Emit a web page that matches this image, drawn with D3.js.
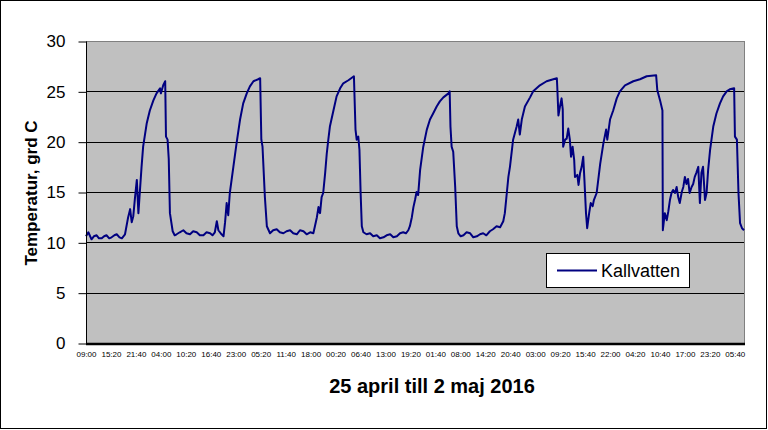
<!DOCTYPE html>
<html lang="sv">
<head>
<meta charset="UTF-8" />
<title>Kallvatten</title>
<style>
  body { margin: 0; background: #fff; }
  svg { display: block; font-family: "Liberation Sans", Arial, sans-serif; }
  .frame { fill: #fff; stroke: #000; stroke-width: 1; }
  .plot-bg { fill: #c0c0c0; stroke: #808080; stroke-width: 1; }
  .grid line { stroke: #000; stroke-width: 1; }
  .y-axis text { font-size: 17px; fill: #000; }
  .y-axis line, .y-axis path { stroke: #000; }
  .x-axis text { font-size: 8px; fill: #000; }
  .x-axis path { stroke: #000; stroke-width: 2.5; }
  .series { fill: none; stroke: #000080; stroke-width: 2; stroke-linejoin: round; }
  .title { font-weight: bold; fill: #000; }
</style>
<script src="https://cdnjs.cloudflare.com/ajax/libs/d3/7.8.5/d3.min.js"></script>
</head>
<body>
<div id="chart"></div>
<script>
// timmar från 25 april 09:00, temperatur i grader C
const hours = [
  0, 0.6, 1.4, 2.0, 2.7, 3.3, 4.0, 4.6, 5.2, 5.9, 6.5, 7.2, 7.8, 8.5, 9.1, 9.9,
  10.7, 11.2, 11.6, 12.0, 12.4, 12.9, 13.3, 13.7, 14.1, 14.5, 15.4, 16.2, 17.1, 17.9, 18.8, 19.0,
  19.6, 20.1, 20.3, 20.7, 21.0, 21.3, 22.0, 22.5, 23.0, 23.8, 24.7, 25.5, 26.4, 27.2, 28.1, 28.9,
  29.8, 30.6, 31.5, 32.1, 32.7, 33.2, 33.6, 34.4, 34.9, 35.3, 35.7, 36.1, 36.5, 37.4, 38.2, 39.1,
  39.9, 40.8, 41.6, 42.5, 43.7, 44.2, 44.5, 44.8, 45.4, 45.9, 46.7, 47.5, 48.4, 49.2, 50.1, 50.9,
  51.8, 52.6, 53.5, 54.3, 55.2, 56.0, 56.9, 57.7, 58.1, 58.6, 59.0, 59.4, 59.8, 60.2, 60.7, 61.1,
  61.5, 61.9, 62.8, 63.6, 64.5, 65.3, 66.6, 68.0, 68.4, 68.7, 69.1, 69.4, 69.7, 70.0, 70.4, 71.2,
  72.1, 72.9, 73.8, 74.6, 75.5, 76.3, 77.2, 78.0, 78.9, 79.7, 80.5, 81.2, 81.8, 82.2, 82.7, 83.1,
  83.5, 83.9, 84.3, 84.8, 85.6, 86.5, 87.3, 88.1, 89.0, 89.8, 90.7, 92.0, 92.3, 92.5, 92.8, 93.2,
  93.7, 94.1, 94.5, 95.1, 95.8, 96.6, 97.5, 98.3, 99.2, 100.0, 100.8, 101.6, 102.5, 103.3, 104.2, 105.1,
  105.9, 106.3, 106.8, 107.2, 107.6, 108.4, 109.3, 109.7, 110.1, 110.6, 111.4, 112.7, 113.5, 115.2, 116.9, 118.6,
  119.5, 119.6, 119.9, 120.3, 120.7, 121.0, 121.1, 121.6, 122.0, 122.4, 122.8, 123.1, 123.5, 123.9, 124.1, 124.7,
  125.0, 125.4, 125.8, 126.2, 126.5, 126.9, 127.2, 127.7, 128.1, 128.6, 128.9, 129.6, 130.5, 131.3, 132.0, 132.3,
  133.0, 133.8, 134.7, 135.5, 136.8, 138.9, 140.6, 142.3, 144.7, 145.0, 145.7, 146.3, 146.4, 146.9, 147.4, 147.8,
  148.2, 148.6, 149.0, 149.5, 149.9, 150.3, 150.7, 151.2, 151.6, 152.0, 152.4, 152.8, 153.2, 153.7, 154.1, 154.5,
  154.9, 155.4, 155.8, 156.2, 156.6, 157.1, 157.5, 157.9, 158.4, 159.2, 160.0, 160.9, 161.7, 162.6, 163.4, 164.5,
  164.7, 165.2, 165.6, 166.0, 166.5, 167.0
];
const kallvatten = [
  10.6, 11.0, 10.3, 10.6, 10.7, 10.4, 10.4, 10.6, 10.7, 10.4, 10.5, 10.7, 10.8, 10.5, 10.4, 10.8,
  12.5, 13.3, 12.0, 12.6, 14.3, 16.2, 12.9, 15.2, 17.5, 19.5, 21.8, 23.1, 24.1, 24.8, 25.3, 24.8,
  25.6, 26.0, 20.5, 20.2, 18.3, 12.9, 11.1, 10.7, 10.8, 11.0, 11.2, 10.9, 10.8, 11.1, 11.0, 10.7,
  10.7, 11.0, 10.9, 10.7, 11.0, 12.1, 11.2, 10.8, 10.6, 12.0, 13.9, 12.7, 14.9, 17.5, 19.8, 22.2,
  23.8, 24.8, 25.5, 26.0, 26.2, 26.3, 20.2, 19.5, 14.5, 11.6, 10.9, 11.2, 11.3, 11.0, 10.9, 11.1,
  11.2, 10.9, 10.8, 11.2, 11.1, 10.8, 11.0, 10.9, 11.6, 12.5, 13.5, 12.9, 14.5, 14.9, 16.9, 18.8,
  20.2, 21.5, 23.1, 24.5, 25.3, 25.8, 26.1, 26.5, 21.2, 20.2, 20.5, 19.2, 14.9, 11.6, 11.0, 10.8,
  10.9, 10.6, 10.7, 10.4, 10.5, 10.7, 10.8, 10.5, 10.6, 10.9, 11.0, 10.9, 11.2, 11.6, 12.5, 13.5,
  14.2, 15.0, 14.7, 17.2, 19.5, 21.2, 22.2, 22.8, 23.5, 24.0, 24.4, 24.8, 25.0, 21.5, 19.5, 19.0,
  15.5, 11.6, 10.9, 10.6, 10.7, 11.0, 10.9, 10.5, 10.6, 10.8, 10.9, 10.7, 11.1, 11.3, 11.6, 11.5,
  12.1, 12.9, 14.9, 16.5, 17.5, 20.2, 21.5, 22.2, 20.7, 22.2, 23.5, 24.4, 25.0, 25.6, 26.0, 26.2,
  26.3, 25.5, 22.6, 23.5, 24.3, 23.2, 19.5, 20.2, 20.3, 21.3, 20.2, 18.5, 19.5, 18.2, 16.5, 16.7,
  15.7, 16.9, 17.5, 18.5, 16.2, 12.9, 11.4, 12.9, 13.9, 13.6, 14.2, 14.9, 17.8, 19.8, 21.2, 20.2,
  22.2, 23.1, 24.3, 25.0, 25.6, 26.0, 26.2, 26.5, 26.6, 25.1, 24.1, 23.1, 11.2, 12.9, 12.2, 13.1,
  14.2, 14.9, 15.2, 14.9, 15.5, 14.5, 13.9, 15.0, 15.5, 16.5, 15.8, 16.3, 14.9, 15.5, 15.8, 16.5,
  16.9, 17.5, 13.9, 16.9, 17.5, 14.2, 14.9, 17.2, 19.2, 21.5, 22.8, 23.8, 24.5, 25.0, 25.2, 25.3,
  20.5, 20.2, 14.9, 11.9, 11.4, 11.2
];

const tickLabels = [
  "09:00", "15:20", "21:40", "04:00", "10:20", "16:40", "23:00", "05:20", "11:40",
  "18:00", "00:20", "06:40", "13:00", "19:20", "01:40", "08:00", "14:20", "20:40",
  "03:00", "09:20", "15:40", "22:00", "04:20", "10:40", "17:00", "23:20", "05:40"
];
const tickStepHours = 6 + 20 / 60;
const yTicks = [0, 5, 10, 15, 20, 25, 30];
const seriesName = "Kallvatten";
const yTitle = "Temperatur, grd C";
const xTitle = "25 april till 2 maj 2016";

const width = 768, height = 430;
const plot = { left: 86, top: 41, right: 744, bottom: 343 };

const svg = d3.select("#chart").append("svg")
  .attr("width", width)
  .attr("height", height);

svg.append("rect").attr("class", "frame")
  .attr("x", 0.5).attr("y", 0.5)
  .attr("width", 766).attr("height", 428);

const x = d3.scaleLinear().domain([0, 167]).range([plot.left, plot.right]);
const y = d3.scaleLinear().domain([0, 30]).range([plot.bottom, plot.top]);

svg.append("rect").attr("class", "plot-bg")
  .attr("x", plot.left + 0.5).attr("y", plot.top + 0.5)
  .attr("width", plot.right - plot.left).attr("height", plot.bottom - plot.top);

// stödlinjer
svg.append("g").attr("class", "grid")
  .selectAll("line")
  .data(yTicks.filter(d => d > 0 && d < 30))
  .join("line")
  .attr("x1", plot.left).attr("x2", plot.right)
  .attr("y1", d => Math.round(y(d)) + 0.5)
  .attr("y2", d => Math.round(y(d)) + 0.5);

// dataserien
const line = d3.line()
  .x((d, i) => x(hours[i]))
  .y(d => y(d));

svg.append("path").attr("class", "series")
  .datum(kallvatten)
  .attr("d", line);

// y-axel
svg.append("g").attr("class", "y-axis")
  .attr("transform", `translate(${plot.left + 0.5},0.5)`)
  .call(d3.axisLeft(y).tickValues(yTicks).tickSize(8).tickPadding(13))
  .call(g => g.selectAll("text").attr("font-family", null))
  .call(g => g.select(".domain").attr("d", `M0,${plot.top}V${plot.bottom}`));

// x-axel
const xAxis = d3.axisBottom(x)
  .tickValues(tickLabels.map((d, i) => i * tickStepHours))
  .tickFormat((d, i) => tickLabels[i])
  .tickSize(0);

svg.append("g").attr("class", "x-axis")
  .attr("transform", `translate(0,${plot.bottom + 1})`)
  .call(xAxis)
  .call(g => g.select(".domain").attr("d", `M${plot.left},0H${plot.right + 1}`))
  .call(g => g.selectAll("text").attr("y", 13).attr("dy", null).attr("font-family", null));

// axeltitlar
svg.append("text").attr("class", "title")
  .attr("transform", `translate(37,${(plot.top + plot.bottom) / 2 + 1}) rotate(-90)`)
  .attr("text-anchor", "middle")
  .style("font-size", "17px")
  .text(yTitle);

svg.append("text").attr("class", "title")
  .attr("x", 432).attr("y", 393)
  .attr("text-anchor", "middle")
  .style("font-size", "20px")
  .text(xTitle);

// förklaring
const legend = svg.append("g").attr("transform", "translate(546,253)");
legend.append("rect")
  .attr("x", 0.5).attr("y", 0.5)
  .attr("width", 143).attr("height", 34)
  .attr("fill", "#fff").attr("stroke", "#000");
legend.append("line")
  .attr("x1", 11).attr("x2", 51)
  .attr("y1", 17.5).attr("y2", 17.5)
  .attr("stroke", "#000080").attr("stroke-width", 2);
legend.append("text")
  .attr("x", 55).attr("y", 24)
  .style("font-size", "18px")
  .text(seriesName);
</script>
</body>
</html>
